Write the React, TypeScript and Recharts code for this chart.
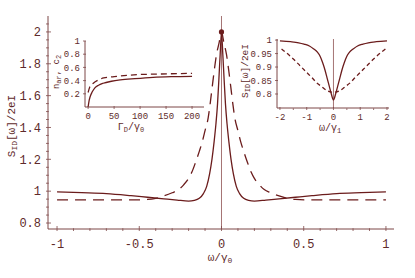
import React from 'react';
import { LineChart, Line, XAxis, YAxis, ReferenceLine, ReferenceDot } from 'recharts';

const INK = '#6b1c1c';
const AXIS = '#7d4747';
const TEXT = '#5e2a2a';
const MONO = '"Liberation Mono", "DejaVu Sans Mono", monospace';

// main panel: S_ID[w]/2eI against w/gamma0
const mainXTicks = [-1, -0.5, 0, 0.5, 1];
const mainXMinor = [-1, -0.9, -0.8, -0.7, -0.6, -0.5, -0.4, -0.3, -0.2, -0.1, 0, 0.1, 0.2, 0.3, 0.4, 0.5, 0.6, 0.7, 0.8, 0.9, 1];
const mainYTicks = [0.8, 1, 1.2, 1.4, 1.6, 1.8, 2];
const mainYMinor = [0.8, 0.85, 0.9, 0.95, 1, 1.05, 1.1, 1.15, 1.2, 1.25, 1.3, 1.35, 1.4, 1.45, 1.5, 1.55, 1.6, 1.65, 1.7, 1.75, 1.8, 1.85, 1.9, 1.95, 2, 2.05];

const solidX = [-1, -0.85, -0.7, -0.55, -0.45, -0.35, -0.27, -0.2, -0.165, -0.135, -0.11, -0.09, -0.072, -0.058, -0.045, -0.034, -0.024, -0.016, -0.008, 0,
  0.008, 0.016, 0.024, 0.034, 0.045, 0.058, 0.072, 0.09, 0.11, 0.135, 0.165, 0.2, 0.27, 0.35, 0.45, 0.55, 0.7, 0.85, 1];
const solidY = [0.996, 0.991, 0.985, 0.972, 0.962, 0.952, 0.944, 0.938, 0.942, 0.955, 0.985, 1.03, 1.11, 1.2, 1.31, 1.42, 1.55, 1.7, 1.86, 2.0,
  1.86, 1.7, 1.55, 1.42, 1.31, 1.2, 1.11, 1.03, 0.985, 0.955, 0.942, 0.938, 0.944, 0.952, 0.962, 0.972, 0.985, 0.991, 0.996];

const dashX = [-1, -0.75, -0.55, -0.45, -0.4, -0.35, -0.3, -0.26, -0.23, -0.2, -0.18, -0.158, -0.135, -0.117, -0.1, -0.081, -0.07, -0.057, -0.045, -0.03, -0.015, 0,
  0.015, 0.03, 0.045, 0.057, 0.07, 0.081, 0.1, 0.117, 0.135, 0.158, 0.18, 0.2, 0.23, 0.26, 0.3, 0.35, 0.4, 0.45, 0.55, 0.75, 1];
const dashY = [0.945, 0.945, 0.945, 0.948, 0.955, 0.97, 0.99, 1.01, 1.04, 1.08, 1.12, 1.18, 1.25, 1.31, 1.38, 1.46, 1.54, 1.65, 1.75, 1.86, 1.93, 2.0,
  1.93, 1.86, 1.75, 1.65, 1.54, 1.46, 1.38, 1.31, 1.25, 1.18, 1.12, 1.08, 1.04, 1.01, 0.99, 0.97, 0.955, 0.948, 0.945, 0.945, 0.945];

// left inset: n_ar, c_2 against Gamma_D/gamma0
const occXTicks = [0, 50, 100, 150, 200];
const occYTicks = [0.2, 0.4, 0.6, 0.8, 1];
const occSolidX = [0, 2, 4, 8, 13, 20, 29, 45, 62, 90, 125, 160, 200];
const occSolidY = [0, 0.1, 0.16, 0.23, 0.29, 0.33, 0.36, 0.39, 0.41, 0.43, 0.45, 0.46, 0.465];
const occDashX = [0, 3, 10, 20, 30, 50, 94, 140, 200];
const occDashY = [0.22, 0.3, 0.36, 0.41, 0.44, 0.46, 0.49, 0.5, 0.51];

// right inset: S_ID near zero frequency
const nzXTicks = [-2, -1, 0, 1, 2];
const nzXMinor = [-2, -1.5, -1, -0.5, 0, 0.5, 1, 1.5, 2];
const nzYTicks = [0.8, 0.85, 0.9, 0.95, 1];
const nzSolidX = [-2, -1.6, -1.3, -1.1, -0.9, -0.75, -0.6, -0.5, -0.4, -0.32, -0.24, -0.16, -0.08, 0,
  0.08, 0.16, 0.24, 0.32, 0.4, 0.5, 0.6, 0.75, 0.9, 1.1, 1.3, 1.6, 2];
const nzSolidY = [0.997, 0.994, 0.99, 0.985, 0.978, 0.968, 0.955, 0.94, 0.915, 0.89, 0.86, 0.83, 0.8, 0.778,
  0.8, 0.83, 0.86, 0.89, 0.915, 0.94, 0.955, 0.968, 0.978, 0.985, 0.99, 0.994, 0.997];
const nzDashX = [-1.94, -1.75, -1.5, -1.25, -1, -0.8, -0.63, -0.45, -0.25, -0.12, 0,
  0.12, 0.25, 0.45, 0.63, 0.8, 1, 1.25, 1.5, 1.75, 1.94];
const nzDashY = [0.967, 0.952, 0.93, 0.905, 0.88, 0.86, 0.842, 0.828, 0.813, 0.808, 0.806,
  0.808, 0.813, 0.828, 0.842, 0.86, 0.88, 0.905, 0.93, 0.952, 0.967];

const zip = (xs: number[], ys: number[]) => xs.map((x, i) => ({ x, y: ys[i] }));

type Side = 'left' | 'right' | 'top' | 'bottom';

// inward ticks like the Mathematica frame
const tickRenderer = (side: Side, majors: number[], len: number, fs: number, labels: boolean, off: number) => (p: any) => {
  const v = Number(p.payload.value);
  const major = majors.some((m) => Math.abs(m - v) < 1e-9);
  const l = major ? len : len * 0.55;
  const { x, y } = p;
  let x2 = x;
  let y2 = y;
  if (side === 'left') x2 = x + l;
  if (side === 'right') x2 = x - l;
  if (side === 'bottom') y2 = y - l;
  if (side === 'top') y2 = y + l;
  let label = null;
  if (labels && major) {
    label = side === 'left'
      ? <text x={x - off} y={y} dy="0.35em" textAnchor="end" fontSize={fs} fontFamily={MONO} fill={TEXT}>{String(v)}</text>
      : <text x={x} y={y + off} textAnchor="middle" fontSize={fs} fontFamily={MONO} fill={TEXT}>{String(v)}</text>;
  }
  return (
    <g>
      <line x1={x} y1={y} x2={x2} y2={y2} stroke={AXIS} strokeWidth={0.8} />
      {label}
    </g>
  );
};

const axisCommon = { type: 'number' as const, allowDataOverflow: true, interval: 0 as const, tickSize: 0, tickLine: false };

export default function App() {
  return (
    <div style={{ position: 'absolute', left: 0, top: 0, width: 415, height: 278, background: '#fff' }}>
      <div style={{ position: 'absolute', left: 0, top: 0 }}>
        <LineChart width={415} height={278} margin={{ top: 16, right: 21, bottom: 0, left: 0 }}>
          <XAxis xAxisId="b" dataKey="x" {...axisCommon} domain={[-1.055, 1.049]} ticks={mainXMinor} height={49}
            stroke={AXIS} tick={tickRenderer('bottom', mainXTicks, 5, 12, true, 17)} />
          <XAxis xAxisId="t" orientation="top" dataKey="x" {...axisCommon} domain={[-1.055, 1.049]} ticks={mainXMinor} height={0}
            stroke="#e2d6d6" tick={tickRenderer('top', mainXTicks, 4, 12, false, 0)} />
          <YAxis yAxisId="l" {...axisCommon} domain={[0.7625, 2.1]} ticks={mainYMinor} width={48}
            stroke={AXIS} tick={tickRenderer('left', mainYTicks, 5, 12, true, 5)} />
          <YAxis yAxisId="r" orientation="right" {...axisCommon} domain={[0.7625, 2.1]} ticks={mainYMinor} width={0}
            stroke={AXIS} tick={tickRenderer('right', mainYTicks, 5, 12, false, 0)} />
          <ReferenceLine xAxisId="b" yAxisId="l" x={0} stroke="#9a6464" strokeWidth={0.9} />
          <Line xAxisId="b" yAxisId="l" data={zip(solidX, solidY)} dataKey="y" type="monotone" stroke={INK}
            strokeWidth={1.3} dot={false} isAnimationActive={false} />
          <Line xAxisId="b" yAxisId="l" data={zip(dashX, dashY)} dataKey="y" type="monotone" stroke={INK}
            strokeWidth={1.3} strokeDasharray="11 7" dot={false} isAnimationActive={false} />
          <ReferenceDot xAxisId="b" yAxisId="l" x={0} y={2} r={2.6} fill={INK} stroke="none" />
        </LineChart>
      </div>

      <div style={{ position: 'absolute', left: 50, top: 36 }}>
        <LineChart width={156} height={96} margin={{ top: 5, right: 2, bottom: 0, left: 0 }}>
          <XAxis xAxisId="b" dataKey="x" {...axisCommon} domain={[-6, 223]} ticks={occXTicks} height={25}
            stroke={AXIS} tick={tickRenderer('bottom', occXTicks, 3, 9, true, 10)} />
          <XAxis xAxisId="t" orientation="top" dataKey="x" {...axisCommon} domain={[-6, 223]} ticks={occXTicks} height={0}
            stroke="#e2d6d6" tick={tickRenderer('top', occXTicks, 2, 9, false, 0)} />
          <YAxis yAxisId="l" {...axisCommon} domain={[0, 1]} ticks={occYTicks} width={35}
            stroke={AXIS} tick={tickRenderer('left', occYTicks, 3, 9, true, 3)} />
          <YAxis yAxisId="r" orientation="right" {...axisCommon} domain={[0, 1]} ticks={occYTicks} width={0}
            stroke={AXIS} tick={tickRenderer('right', occYTicks, 2, 9, false, 0)} />
          <Line xAxisId="b" yAxisId="l" data={zip(occSolidX, occSolidY)} dataKey="y" type="monotone" stroke={INK}
            strokeWidth={1.3} dot={false} isAnimationActive={false} />
          <Line xAxisId="b" yAxisId="l" data={zip(occDashX, occDashY)} dataKey="y" type="monotone" stroke={INK}
            strokeWidth={1.3} strokeDasharray="6 4" dot={false} isAnimationActive={false} />
        </LineChart>
      </div>

      <div style={{ position: 'absolute', left: 236, top: 34 }}>
        <LineChart width={155} height={98} margin={{ top: 5, right: 2, bottom: 0, left: 0 }}>
          <XAxis xAxisId="b" dataKey="x" {...axisCommon} domain={[-2.11, 2.075]} ticks={nzXMinor} height={24}
            stroke={AXIS} tick={tickRenderer('bottom', nzXTicks, 3, 9, true, 10)} />
          <XAxis xAxisId="t" orientation="top" dataKey="x" {...axisCommon} domain={[-2.11, 2.075]} ticks={nzXMinor} height={0}
            stroke="#d9c9c9" tick={tickRenderer('top', nzXTicks, 2, 9, false, 0)} />
          <YAxis yAxisId="l" {...axisCommon} domain={[0.748, 1.004]} ticks={nzYTicks} width={41}
            stroke={AXIS} tick={tickRenderer('left', nzYTicks, 3, 9, true, 3)} />
          <YAxis yAxisId="r" orientation="right" {...axisCommon} domain={[0.748, 1.004]} ticks={nzYTicks} width={0}
            stroke={AXIS} tick={tickRenderer('right', nzYTicks, 2, 9, false, 0)} />
          <ReferenceLine xAxisId="b" yAxisId="l" x={0} stroke="#9a6464" strokeWidth={0.9} />
          <Line xAxisId="b" yAxisId="l" data={zip(nzSolidX, nzSolidY)} dataKey="y" type="monotone" stroke={INK}
            strokeWidth={1.3} dot={false} isAnimationActive={false} />
          <Line xAxisId="b" yAxisId="l" data={zip(nzDashX, nzDashY)} dataKey="y" type="monotone" stroke={INK}
            strokeWidth={1.3} strokeDasharray="4 3" dot={false} isAnimationActive={false} />
        </LineChart>
      </div>

      {/* axis titles */}
      <svg width={415} height={278} style={{ position: 'absolute', left: 0, top: 0, pointerEvents: 'none' }}>
        <g fontFamily={MONO} fill={TEXT}>
          <text transform="translate(15,126) rotate(-90)" textAnchor="middle" fontSize={11}>
            S<tspan fontSize={8} dy={2}>ID</tspan><tspan dy={-2}>[ω]/2eI</tspan>
          </text>
          <text x={220} y={261} textAnchor="middle" fontSize={11}>
            ω/γ<tspan fontSize={8} dy={2}>0</tspan>
          </text>
          <text transform="translate(59,72) rotate(-90)" textAnchor="middle" fontSize={9}>
            n<tspan fontSize={7} dy={2}>ar</tspan><tspan dy={-2}>, c</tspan><tspan fontSize={7} dy={2}>2</tspan>
          </text>
          <text x={131} y={130} textAnchor="middle" fontSize={10}>
            Γ<tspan fontSize={7} dy={2}>D</tspan><tspan dy={-2}>/γ</tspan><tspan fontSize={7} dy={2}>0</tspan>
          </text>
          <text transform="translate(248,71) rotate(-90)" textAnchor="middle" fontSize={9.5}>
            S<tspan fontSize={7} dy={2}>ID</tspan><tspan dy={-2}>[ω]/2eI</tspan>
          </text>
          <text x={330} y={131} textAnchor="middle" fontSize={10}>
            ω/γ<tspan fontSize={7} dy={2}>1</tspan>
          </text>
        </g>
      </svg>
    </div>
  );
}
